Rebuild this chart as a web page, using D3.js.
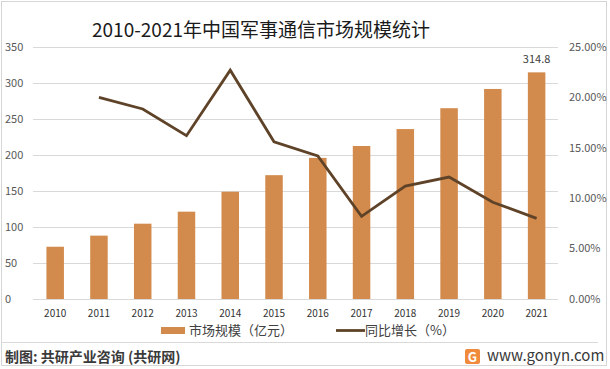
<!DOCTYPE html>
<html><head><meta charset="utf-8">
<script src="https://cdn.jsdelivr.net/npm/d3@7"></script>
<style>html,body{margin:0;padding:0;background:#fff;}svg{display:block;}</style>
</head><body>
<svg id="c" width="610" height="369"></svg>
<script>
const years = ["2010","2011","2012","2013","2014","2015","2016","2017","2018","2019","2020","2021"];
const marketSize = [72.6, 88, 104.6, 121.3, 149, 172, 196, 212.5, 236, 265, 291.7, 314.8];
const growth = [null, 20.0, 18.85, 16.2, 22.7, 15.6, 14.2, 8.2, 11.2, 12.1, 9.6, 8.0];
const leftTicks = [0,50,100,150,200,250,300,350];
const rightTicks = [0,5,10,15,20,25];
const title = "2010-2021年中国军事通信市场规模统计";
const legendBar = "市场规模（亿元）";
const legendLine = "同比增长（%）";
const source = "制图: 共研产业咨询 (共研网)";
const site = "www.gonyn.com";

const svg = d3.select("#c");
const font = "'Noto Sans CJK SC','Noto Sans',sans-serif";
const barColor = "#D38B4D", lineColor = "#5F4329";

// frame
svg.append("rect").attr("x",1.5).attr("y",1.5).attr("width",605).attr("height",364)
  .attr("fill","#fff").attr("stroke","#d6d6d6");

const x = d3.scaleBand().domain(years).range([33.3, 558.5]).paddingInner(0.6).paddingOuter(0.3);
const yL = d3.scaleLinear().domain([0,350]).range([299, 47]);
const yR = d3.scaleLinear().domain([0,25]).range([299, 47]);

// gridlines
svg.append("g").selectAll("line").data(leftTicks).join("line")
  .attr("x1",33).attr("x2",558).attr("y1",d=>yL(d)+0.5).attr("y2",d=>yL(d)+0.5)
  .attr("stroke","#d9d9d9").attr("stroke-width",1);

// left axis labels
svg.append("g").selectAll("text").data(leftTicks).join("text")
  .attr("x",5).attr("y",d=>yL(d)).attr("dy","0.35em")
  .attr("font-family",font).attr("font-size",11).attr("fill","#595959")
  .text(d=>d);
// right axis labels
svg.append("g").selectAll("text").data(rightTicks).join("text")
  .attr("x",569).attr("y",d=>yR(d)).attr("dy","0.35em")
  .attr("font-family",font).attr("font-size",11).attr("fill","#595959")
  .text(d=>d.toFixed(2)+"%");

// bars
svg.append("g").selectAll("rect").data(years).join("rect")
  .attr("x",d=>x(d)).attr("width",x.bandwidth())
  .attr("y",(d,i)=>yL(marketSize[i])).attr("height",(d,i)=>yL(0)-yL(marketSize[i]))
  .attr("fill",barColor);

// label last bar
svg.append("text").attr("x",x(years[11])+x.bandwidth()/2).attr("y",yL(marketSize[11])-13)
  .attr("text-anchor","middle").attr("dy","0.35em")
  .attr("font-family",font).attr("font-size",11).attr("fill","#404040")
  .text(marketSize[11].toFixed(1));

// line
const line = d3.line().defined(d=>d[1]!=null)
  .x(d=>x(d[0])+x.bandwidth()/2).y(d=>yR(d[1]));
svg.append("path").datum(years.map((y,i)=>[y,growth[i]]))
  .attr("d",line).attr("fill","none").attr("stroke",lineColor).attr("stroke-width",2.8)
  .attr("stroke-linejoin","miter");

// x axis labels
svg.append("g").selectAll("text").data(years).join("text")
  .attr("x",d=>x(d)+x.bandwidth()/2).attr("y",313).attr("dy","0.35em")
  .attr("text-anchor","middle").attr("font-family",font).attr("font-size",10).attr("fill","#333")
  .text(d=>d);

// title
svg.append("text").attr("x",261).attr("y",30).attr("text-anchor","middle").attr("dy","0.35em")
  .attr("font-family",font).attr("font-size",19).attr("fill","#1a1a1a").text(title);

// legend
svg.append("rect").attr("x",161).attr("y",327).attr("width",24).attr("height",7).attr("fill",barColor);
svg.append("text").attr("x",189).attr("y",330.5).attr("dy","0.35em")
  .attr("font-family",font).attr("font-size",13).attr("fill","#404040").text(legendBar);
svg.append("line").attr("x1",336).attr("x2",365).attr("y1",330.5).attr("y2",330.5)
  .attr("stroke",lineColor).attr("stroke-width",2.8);
svg.append("text").attr("x",365).attr("y",330.5).attr("dy","0.35em")
  .attr("font-family",font).attr("font-size",13).attr("fill","#404040").text(legendLine);

// footer separator
svg.append("line").attr("x1",2).attr("x2",598).attr("y1",342.5).attr("y2",342.5)
  .attr("stroke","#d9d9d9");
svg.append("text").attr("x",5).attr("y",357).attr("dy","0.35em")
  .attr("font-family",font).attr("font-size",14).attr("font-weight","bold").attr("fill","#3a3a3a")
  .text(source);
// logo
const lg = svg.append("g").attr("transform","translate(465,349)");
lg.append("rect").attr("width",15).attr("height",15).attr("rx",2).attr("fill","#F08A3C");
lg.append("text").attr("x",7.5).attr("y",8).attr("dy","0.36em").attr("text-anchor","middle")
  .attr("font-family",font).attr("font-size",13).attr("font-weight","bold").attr("fill","#fff").text("G");
svg.append("text").attr("x",487).attr("y",356).attr("dy","0.35em")
  .attr("font-family",font).attr("font-size",15).attr("fill","#3a3a3a").text(site);
</script>
</body></html>
